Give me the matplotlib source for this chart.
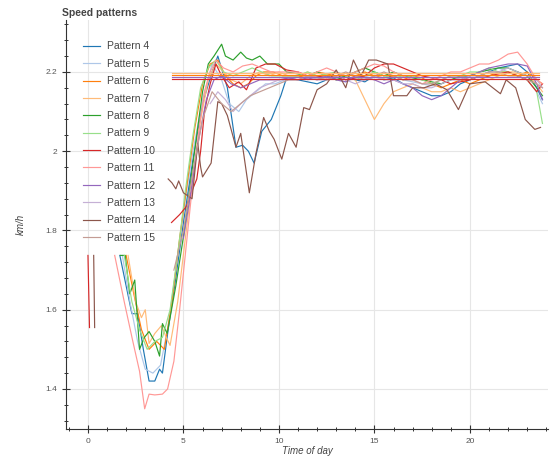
import matplotlib
matplotlib.use('Agg')
import matplotlib.pyplot as plt
import numpy as np
from matplotlib.ticker import MultipleLocator

plt.rcParams['font.family'] = ['Liberation Sans', 'DejaVu Sans']

# tempos comuns da parte final do dia (horas)
tail_t = [11, 11.5, 12, 12.5, 13, 13.5, 14, 14.5, 15, 15.5,
          16, 16.5, 17, 17.5, 18, 18.5, 19, 19.5, 20, 20.5,
          21, 21.5, 22, 22.5, 23, 23.5, 23.8]

labels = ['Pattern 4', 'Pattern 5', 'Pattern 6', 'Pattern 7', 'Pattern 8', 'Pattern 9',
          'Pattern 10', 'Pattern 11', 'Pattern 12', 'Pattern 13', 'Pattern 14', 'Pattern 15']
colors = ['#1f77b4', '#aec7e8', '#ff7f0e', '#ffbb78', '#2ca02c', '#98df8a',
          '#d62728', '#ff9896', '#9467bd', '#c5b0d5', '#8c564b', '#c49c94']

# Pattern 4
p4_t = [1.67, 2.0, 2.3, 2.6, 2.9, 3.2, 3.5, 3.75, 3.9, 4.2, 4.6, 5.0, 5.5, 6.0, 6.5, 6.8, 7.3, 7.75, 8.1, 8.4,
        8.7, 9.1, 9.6, 10.1, 10.4]
p4_v = [1.737, 1.66, 1.59, 1.59, 1.5, 1.42, 1.42, 1.45, 1.44, 1.55, 1.68, 1.82, 1.98, 2.12, 2.2, 2.24, 2.16, 2.01, 2.015, 2.0,
        1.97, 2.05, 2.08, 2.14, 2.185]
p4_tail = [2.18, 2.175, 2.17, 2.18, 2.185, 2.19, 2.18, 2.175, 2.19, 2.18, 2.185, 2.17, 2.16, 2.15, 2.14, 2.14, 2.15, 2.17,
           2.18, 2.19, 2.2, 2.21, 2.215, 2.22, 2.2, 2.16, 2.13]

# Pattern 5
p5_t = [1.8, 2.2, 2.6, 3.0, 3.4, 3.8, 4.2, 4.6, 5.0, 5.5, 6.0, 6.5, 7.0, 7.4, 7.9, 8.3, 8.8, 9.3, 9.8, 10.3]
p5_v = [1.737, 1.62, 1.52, 1.45, 1.44, 1.46, 1.56, 1.70, 1.85, 2.0, 2.13, 2.22, 2.18, 2.12, 2.10, 2.13, 2.15, 2.17, 2.17, 2.18]
p5_tail = [2.19, 2.18, 2.185, 2.19, 2.18, 2.175, 2.185, 2.19, 2.18, 2.185, 2.19, 2.18, 2.175, 2.17, 2.165, 2.17, 2.18,
           2.185, 2.19, 2.2, 2.205, 2.21, 2.2, 2.19, 2.18, 2.15, 2.12]

# Pattern 6
p6_t = [2.0, 2.4, 2.8, 3.2, 3.6, 4.0, 4.4, 4.8, 5.2, 5.6, 6.0, 6.4, 6.8, 7.2, 7.6, 8.0, 8.4, 8.8, 9.2, 9.7, 10.2]
p6_v = [1.737, 1.64, 1.55, 1.50, 1.52, 1.50, 1.62, 1.78, 1.92, 2.06, 2.17, 2.22, 2.23, 2.19, 2.17, 2.16, 2.17, 2.19, 2.2, 2.2, 2.19]
p6_tail = [2.19, 2.185, 2.2, 2.195, 2.19, 2.18, 2.19, 2.2, 2.19, 2.185, 2.19, 2.18, 2.19, 2.185, 2.17, 2.16, 2.17, 2.18,
           2.17, 2.18, 2.19, 2.2, 2.2, 2.19, 2.2, 2.18, 2.17]

# Pattern 7
p7_t = [2.1, 2.5, 2.8, 3.0, 3.2, 3.5, 3.85, 4.1, 4.3, 4.7, 5.1, 5.5, 5.9, 6.3, 6.7, 7.1, 7.5, 8.0, 8.5, 9.0, 9.5, 10.0, 10.5]
p7_v = [1.737, 1.62, 1.58, 1.60, 1.515, 1.54, 1.56, 1.53, 1.51, 1.62, 1.78, 1.94, 2.08, 2.18, 2.22, 2.2, 2.18, 2.17, 2.19,
        2.2, 2.19, 2.2, 2.19]
p7_tail = [2.19, 2.2, 2.19, 2.18, 2.19, 2.19, 2.18, 2.13, 2.08, 2.12, 2.15, 2.16, 2.17, 2.16, 2.15, 2.15, 2.16, 2.15,
           2.16, 2.17, 2.18, 2.19, 2.2, 2.2, 2.19, 2.17, 2.15]

# Pattern 8
p8_t = [1.7, 1.95, 2.19, 2.45, 2.7, 2.95, 3.2, 3.5, 3.75, 3.9, 4.15, 4.6, 5.05, 5.5, 6.0, 6.3, 6.6, 7.0, 7.2, 7.6,
        8.0, 8.3, 8.6, 9.0, 9.4, 10.0, 10.4]
p8_v = [1.737, 1.737, 1.64, 1.675, 1.5, 1.53, 1.545, 1.52, 1.483, 1.565, 1.54, 1.66, 1.8, 1.97, 2.15, 2.22, 2.24, 2.27,
        2.24, 2.23, 2.25, 2.235, 2.23, 2.24, 2.22, 2.22, 2.2]
p8_tail = [2.195, 2.19, 2.2, 2.19, 2.18, 2.19, 2.2, 2.21, 2.2, 2.19, 2.2, 2.19, 2.185, 2.18, 2.175, 2.17, 2.18, 2.19,
           2.19, 2.2, 2.205, 2.21, 2.21, 2.2, 2.19, 2.16, 2.14]

# Pattern 9
p9_t = [1.9, 2.3, 2.7, 3.1, 3.5, 3.9, 4.3, 4.7, 5.1, 5.5, 5.9, 6.3, 6.7, 7.1, 7.6, 8.1, 8.6, 9.1, 9.6, 10.1]
p9_v = [1.737, 1.62, 1.55, 1.50, 1.52, 1.53, 1.6, 1.74, 1.9, 2.04, 2.16, 2.21, 2.23, 2.2, 2.19, 2.2, 2.21, 2.2, 2.19, 2.19]
p9_tail = [2.19, 2.2, 2.19, 2.195, 2.2, 2.19, 2.18, 2.19, 2.2, 2.19, 2.185, 2.19, 2.19, 2.18, 2.17, 2.18, 2.19, 2.19,
           2.2, 2.2, 2.21, 2.2, 2.2, 2.19, 2.18, 2.15, 2.07]

# Pattern 10 (com um pequeno troço logo depois da meia-noite)
p10_early_t = [0.0, 0.08]
p10_early_v = [1.737, 1.555]
p10_t = [4.375, 4.8, 5.15, 5.45, 5.7, 5.9, 6.1, 6.4, 6.7, 7.0, 7.4, 7.9, 8.3, 8.8, 9.3, 9.8, 10.4]
p10_v = [1.82, 1.84, 1.86, 1.9, 1.93, 2.0, 2.1, 2.17, 2.22, 2.19, 2.16, 2.175, 2.155, 2.21, 2.22, 2.22, 2.205]
p10_tail = [2.2, 2.19, 2.19, 2.185, 2.19, 2.18, 2.185, 2.19, 2.21, 2.22, 2.22, 2.21, 2.2, 2.19, 2.185, 2.18, 2.17,
            2.175, 2.18, 2.19, 2.19, 2.195, 2.2, 2.19, 2.18, 2.15, 2.17]

# Pattern 11
p11_t = [1.4, 1.9, 2.35, 2.7, 2.97, 3.2, 3.5, 3.9, 4.17, 4.5, 4.8, 5.1, 5.4, 5.8, 6.1, 6.4, 6.7, 7.1, 7.6, 8.1,
         8.6, 9.1, 9.6, 10.1]
p11_v = [1.737, 1.62, 1.52, 1.445, 1.35, 1.387, 1.385, 1.387, 1.40, 1.47, 1.6, 1.74, 1.88, 2.05, 2.15, 2.2, 2.23, 2.21,
         2.2, 2.215, 2.22, 2.21, 2.2, 2.2]
p11_tail = [2.2, 2.19, 2.2, 2.21, 2.2, 2.19, 2.2, 2.21, 2.22, 2.215, 2.2, 2.19, 2.18, 2.17, 2.18, 2.19, 2.2, 2.2,
            2.21, 2.22, 2.22, 2.23, 2.245, 2.25, 2.22, 2.18, 2.17]

# Pattern 12
p12_t = [5.0, 5.4, 5.8, 6.2, 6.6, 7.0, 7.5, 8.0, 8.5, 9.0, 9.5, 10.0, 10.5]
p12_v = [1.78, 1.9, 2.03, 2.13, 2.18, 2.19, 2.17, 2.16, 2.17, 2.18, 2.18, 2.18, 2.185]
p12_tail = [2.18, 2.185, 2.18, 2.19, 2.18, 2.175, 2.19, 2.185, 2.18, 2.17, 2.18, 2.17, 2.16, 2.14, 2.13, 2.14, 2.16,
            2.18, 2.19, 2.2, 2.21, 2.215, 2.22, 2.22, 2.215, 2.17, 2.13]

# Pattern 13
p13_t = [6.4, 6.8, 7.2, 7.6, 8.0, 8.5, 9.0, 9.5, 10.0, 10.5]
p13_v = [2.12, 2.15, 2.13, 2.1, 2.12, 2.14, 2.16, 2.17, 2.18, 2.18]
p13_tail = [2.18, 2.19, 2.18, 2.18, 2.19, 2.18, 2.17, 2.18, 2.19, 2.18, 2.18, 2.17, 2.17, 2.16, 2.16, 2.17, 2.18,
            2.18, 2.19, 2.19, 2.2, 2.2, 2.21, 2.2, 2.19, 2.18, 2.16]

# Pattern 14 (série completa, não usa tail_t)
p14_early_t = [0.3, 0.35]
p14_early_v = [1.737, 1.555]
p14_t = [4.2, 4.4, 4.6, 4.75, 5.0, 5.45, 5.75, 5.9, 6.0, 6.45, 6.8, 7.0, 7.3, 7.75, 8.0, 8.45, 8.8, 9.2, 9.5, 9.75,
         10.15, 10.5, 10.9, 11.3, 11.6, 12.0, 12.5, 13.0, 13.5, 13.9, 14.3, 14.7, 15.1, 15.7, 16.0, 16.7, 17.0, 17.6,
         18.2, 18.8, 19.4, 20.0, 20.8, 21.6, 21.9, 22.4, 22.9, 23.4, 23.7]
p14_v = [1.93, 1.92, 1.905, 1.925, 1.895, 1.88, 2.02, 1.96, 1.935, 1.97, 2.125, 2.12, 2.09, 2.01, 2.045, 1.895, 1.995,
         2.085, 2.05, 2.03, 1.98, 2.045, 2.01, 2.11, 2.105, 2.155, 2.17, 2.205, 2.16, 2.23, 2.19, 2.23, 2.23, 2.22,
         2.14, 2.14, 2.16, 2.16, 2.17, 2.155, 2.105, 2.17, 2.175, 2.145, 2.18, 2.16, 2.08, 2.055, 2.06]

# Pattern 15
p15_t = [4.5, 5.0, 5.5, 6.0, 6.5, 7.0, 7.5, 8.0, 8.5, 9.0, 9.5, 10.0, 10.5]
p15_v = [1.70, 1.80, 1.95, 2.08, 2.15, 2.12, 2.1, 2.12, 2.14, 2.15, 2.16, 2.17, 2.18]
p15_tail = [2.18, 2.19, 2.185, 2.18, 2.19, 2.2, 2.19, 2.18, 2.19, 2.2, 2.19, 2.18, 2.18, 2.17, 2.17, 2.18, 2.19,
            2.19, 2.18, 2.19, 2.2, 2.2, 2.19, 2.19, 2.18, 2.17, 2.16]

# níveis médios (linhas horizontais)
mean_idx = [3, 2, 8, 6]
mean_vals = [2.197, 2.193, 2.187, 2.183]
mean_span = [4.4, 23.6]

series = [
    (p4_t + tail_t, p4_v + p4_tail),
    (p5_t + tail_t, p5_v + p5_tail),
    (p6_t + tail_t, p6_v + p6_tail),
    (p7_t + tail_t, p7_v + p7_tail),
    (p8_t + tail_t, p8_v + p8_tail),
    (p9_t + tail_t, p9_v + p9_tail),
    (p10_early_t + [np.nan] + p10_t + tail_t, p10_early_v + [np.nan] + p10_v + p10_tail),
    (p11_t + tail_t, p11_v + p11_tail),
    (p12_t + tail_t, p12_v + p12_tail),
    (p13_t + tail_t, p13_v + p13_tail),
    (p14_early_t + [np.nan] + p14_t, p14_early_v + [np.nan] + p14_v),
    (p15_t + tail_t, p15_v + p15_tail),
]

fig = plt.figure(figsize=(5.5, 4.58), dpi=100)
ax = fig.add_axes([0.12, 0.0633, 0.876, 0.893])

for (t, v), lab, c in zip(series, labels, colors):
    ax.plot(t, v, color=c, lw=0.85, label=lab)

for i, m in zip(mean_idx, mean_vals):
    ax.plot(mean_span, [m, m], color=colors[i], lw=0.85)

ax.set_xlim(-1.15, 24.08)
ax.set_ylim(1.299, 2.331)

ax.xaxis.set_major_locator(MultipleLocator(5))
ax.xaxis.set_minor_locator(MultipleLocator(1))
ax.yaxis.set_major_locator(MultipleLocator(0.2))
ax.yaxis.set_minor_locator(MultipleLocator(0.04))
ax.set_yticks([1.4, 1.6, 1.8, 2.0, 2.2])
ax.set_yticklabels(['1.4', '1.6', '1.8', '2', '2.2'])

ax.tick_params(which='major', direction='inout', length=6, width=0.8, labelsize=6, labelcolor='#555555', color='#333333')
ax.tick_params(which='minor', direction='inout', length=3.5, width=0.7, color='#333333')

for s in ['top', 'right']:
    ax.spines[s].set_visible(False)
for s in ['left', 'bottom']:
    ax.spines[s].set_color('#333333')
    ax.spines[s].set_linewidth(0.8)

ax.grid(True, which='major', color='#e6e6e6', lw=0.8)
ax.set_axisbelow(True)

ax.set_xlabel('Time of day', fontsize=7, style='italic', color='#444444', labelpad=1)
ax.set_ylabel('km/h', fontsize=7, style='italic', color='#444444', labelpad=14)
fig.text(0.113, 0.972, 'Speed patterns', fontsize=7.5, fontweight='bold', color='#444444', va='center')

leg = ax.legend(loc='upper left', bbox_to_anchor=(0.027, 0.958), frameon=False, fontsize=7.5,
                handlelength=1.6, handletextpad=0.67, labelspacing=0.71, borderaxespad=0)
for txt in leg.get_texts():
    txt.set_color('#444444')

fig.savefig('out.png', dpi=100)
